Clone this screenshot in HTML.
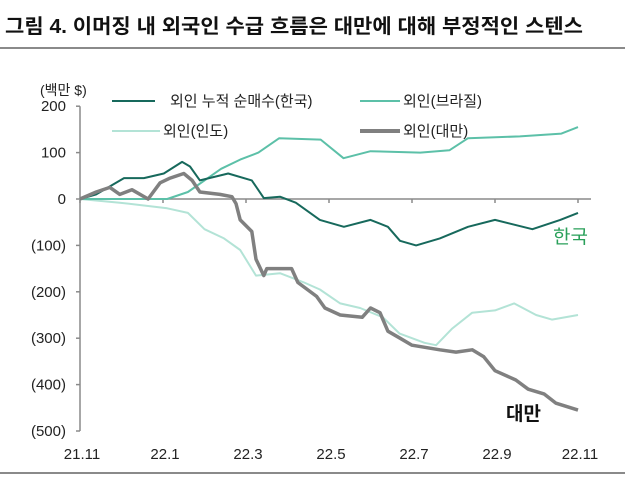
<!DOCTYPE html>
<html><head><meta charset="utf-8">
<style>
body{margin:0;background:#fff;}
svg{display:block;font-family:"Liberation Sans","Noto Sans CJK KR",sans-serif;}
</style></head><body>
<svg id="c" width="625" height="478" viewBox="0 0 625 478">
<text x="5" y="33" font-size="20" font-weight="bold" fill="#111" textLength="578" lengthAdjust="spacingAndGlyphs">그림 4. 이머징 내 외국인 수급 흐름은 대만에 대해 부정적인 스텐스</text>
<rect x="0" y="47" width="625" height="2" fill="#8a8a8a"/>
<rect x="0" y="472" width="625" height="2" fill="#8a8a8a"/>
<text x="40" y="95" font-size="14" fill="#222">(백만 $)</text>
<g>
<g><line x1="112" y1="101" x2="155" y2="101" stroke="#17695c" stroke-width="2"/><text x="170" y="106" font-size="15" fill="#222">외인 누적 순매수(한국)</text></g>
<g><line x1="360" y1="101" x2="400" y2="101" stroke="#5cc0a8" stroke-width="2"/><text x="403" y="106" font-size="15" fill="#222">외인(브라질)</text></g>
<g><line x1="112" y1="131" x2="160" y2="131" stroke="#b3e3d6" stroke-width="2"/><text x="163" y="136" font-size="15" fill="#222">외인(인도)</text></g>
<g><line x1="360" y1="131" x2="400" y2="131" stroke="#808080" stroke-width="4"/><text x="403" y="136" font-size="15" fill="#222">외인(대만)</text></g>
</g>
<g id="axes"></g>
<g id="series"></g>
<text x="553" y="243" font-size="19" fill="#2aa05a">한국</text>
<text x="506" y="420" font-size="19" font-weight="bold" fill="#111">대만</text>
</svg>
<script>
const xTickLabels=["21.11","22.1","22.3","22.5","22.7","22.9","22.11"];
const xTickMonths=[0,2,4,6,8,10,12];
const yTicks=[200,100,0,-100,-200,-300,-400,-500];
const yTickLabels=["200","100","0","(100)","(200)","(300)","(400)","(500)"];
const koreaT=[0,0.39,1.06,1.54,2.02,2.46,2.65,2.89,3.57,4.14,4.43,4.82,5.2,5.78,6.36,7.0,7.42,7.71,8.1,8.67,9.35,10.0,10.9,11.57,12];
const koreaV=[0,10,45,45,55,80,70,40,55,40,2,5,-8,-45,-60,-45,-60,-90,-100,-85,-60,-45,-65,-45,-30];
const brazilT=[0,1.5,2.1,2.6,3.0,3.4,3.86,4.3,4.8,5.8,6.35,7.0,8.2,8.9,9.35,10.6,11.6,12];
const brazilV=[0,0,0,15,40,65,85,100,131,128,88,103,100,105,131,135,141,155];
const indiaT=[0,0.96,2.1,2.6,3.0,3.47,3.86,4.24,4.82,5.4,5.78,6.27,6.75,7.3,7.7,8.3,8.58,8.96,9.45,10.0,10.46,10.99,11.37,12];
const indiaV=[0,-8,-20,-30,-65,-85,-110,-165,-160,-180,-195,-225,-235,-255,-290,-310,-315,-280,-245,-240,-225,-250,-260,-250];
const taiwanT=[0,0.39,0.72,0.96,1.25,1.64,1.93,2.17,2.5,2.7,2.89,3.37,3.66,3.76,3.86,4.14,4.24,4.43,4.5,5.0,5.1,5.25,5.7,5.9,6.27,6.8,7.0,7.23,7.42,7.71,8.0,8.67,9.06,9.45,9.73,10.0,10.5,10.8,11.18,11.47,12];
const taiwanV=[0,15,25,10,20,0,35,45,55,40,15,10,5,-10,-45,-70,-130,-165,-150,-150,-150,-180,-210,-235,-250,-255,-235,-245,-285,-300,-315,-325,-330,-325,-340,-370,-390,-410,-420,-440,-455];
const NS="http://www.w3.org/2000/svg";
const xS=t=>80+t*41.5;
const yS=v=>199-v*0.464;
const ax=document.getElementById('axes'), se=document.getElementById('series');
function mk(tag,attrs,parent){const e=document.createElementNS(NS,tag);for(const k in attrs)e.setAttribute(k,attrs[k]);parent.appendChild(e);return e;}
const ya=mk('line',{x1:80,y1:yS(200),x2:80,y2:yS(-500),stroke:'#8a8a8a','stroke-width':1.5},ax);


const xa=mk('line',{x1:80,y1:yS(0),x2:591,y2:yS(0),stroke:'#8a8a8a','stroke-width':1.5},ax);


yTicks.forEach((v,i)=>{
 const tk=mk('line',{x1:76,y1:yS(v),x2:80,y2:yS(v),stroke:'#8a8a8a','stroke-width':1.5},ax);
 
 
 const t=mk('text',{x:66,y:yS(v)+5,'font-size':15,'text-anchor':'end',fill:'#222'},ax);
 t.textContent=yTickLabels[i];
 
 
});
xTickMonths.forEach((m,i)=>{
 const tk=mk('line',{x1:xS(m),y1:yS(0),x2:xS(m),y2:yS(0)+4,stroke:'#8a8a8a','stroke-width':1.5},ax);
 
 
 const t=mk('text',{x:xS(m)+2,y:459,'font-size':15,'text-anchor':'middle',fill:'#222'},ax);
 t.textContent=xTickLabels[i];
 
 
});
function line(T,V,color,w,name){
 const pts=T.map((t,i)=>xS(t).toFixed(1)+','+yS(V[i]).toFixed(1)).join(' ');
 const p=mk('polyline',{points:pts,fill:'none',stroke:color,'stroke-width':w,'stroke-linejoin':'round'},se);
 
 
}
line(indiaT,indiaV,'#b3e3d6',2,'series-india');
line(brazilT,brazilV,'#5cc0a8',2,'series-brazil');
line(koreaT,koreaV,'#17695c',2,'series-korea');
line(taiwanT,taiwanV,'#808080',3.5,'series-taiwan');
</script>
</body></html>
